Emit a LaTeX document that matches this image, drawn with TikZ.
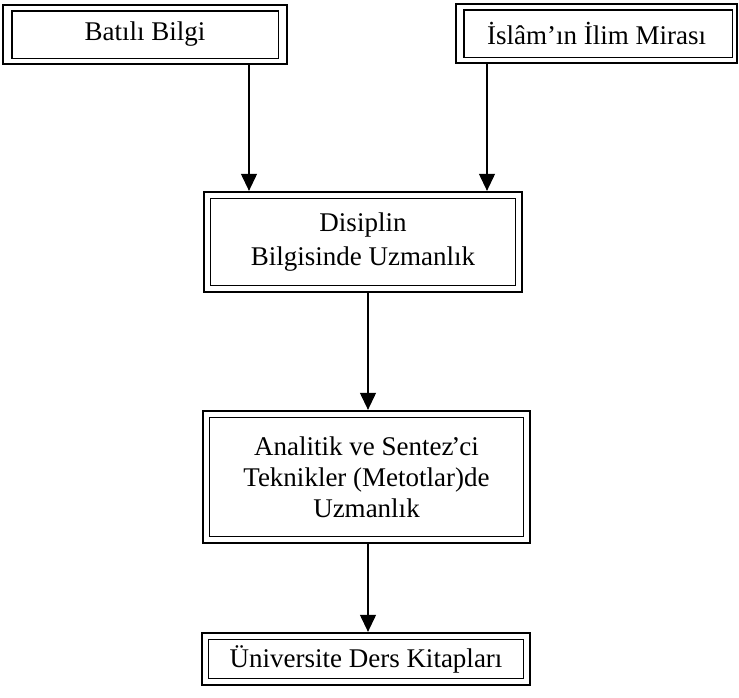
\documentclass[tikz,border=0pt]{standalone}
\usepackage{fontspec}
\setmainfont{Liberation Serif}
\usetikzlibrary{arrows.meta}

\begin{document}
\begin{tikzpicture}[x=1pt,y=-1pt,
  dbox/.style={draw, rectangle, line width=2.3pt, inner sep=0pt, align=center,
    font=\fontsize{27}{31}\selectfont},
  innerframe/.style={line width=1.3pt},
  arr/.style={line width=1.1pt, -{Triangle[width=16pt,length=17pt]}}]
  \useasboundingbox (0,0) rectangle (739,697);

  % the five double-framed boxes
  \node[dbox, minimum width=284pt, minimum height=59pt] (bati) at (145,34.5) {Batılı Bilgi};
  \node[dbox, minimum width=281pt, minimum height=59pt] (islam) at (596.5,33.5) {İslâm’ın İlim Mirası};
  \node[dbox, minimum width=318pt, minimum height=100pt,
        font=\fontsize{27}{34}\selectfont] (disiplin) at (363,242) {Disiplin\\Bilgisinde Uzmanlık};
  \node[dbox, minimum width=327pt, minimum height=132pt,
        font=\fontsize{27}{31}\selectfont] (analitik) at (366.5,477)
        {Analitik ve Sentez\kern-0.08em’\kern-0.04em ci\\Teknikler (Metotlar)de\\Uzmanlık};
  \node[dbox, minimum width=328pt, minimum height=52pt] (kitap) at (366,659) {Üniversite Ders Kitapları};

  % inner frames
  \draw[innerframe] ([xshift=10pt,yshift=-7pt]bati.north west) rectangle ([xshift=-10pt,yshift=7pt]bati.south east);
  \draw[innerframe] ([xshift=9pt,yshift=-7pt]islam.north west) rectangle ([xshift=-6pt,yshift=7pt]islam.south east);
  \foreach \n in {disiplin,analitik,kitap}
    \draw[innerframe] ([xshift=7.5pt,yshift=-7.5pt]\n.north west) rectangle ([xshift=-8pt,yshift=8pt]\n.south east);

  % connectors
  \coordinate (xl) at (249,0);
  \coordinate (xr) at (487,0);
  \coordinate (xm) at (368,0);
  \draw[arr] (xl |- bati.south) -- (xl |- disiplin.north);
  \draw[arr] (xr |- islam.south) -- (xr |- disiplin.north);
  \draw[arr] (xm |- disiplin.south) -- (xm |- analitik.north);
  \draw[arr] (xm |- analitik.south) -- (xm |- kitap.north);
\end{tikzpicture}
\end{document}
